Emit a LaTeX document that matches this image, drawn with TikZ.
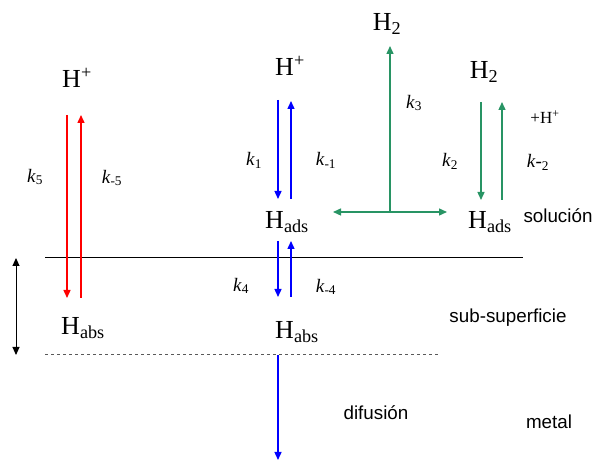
\documentclass[tikz,border=0pt]{standalone}
\usepackage{fontspec}
\setmainfont{Liberation Serif}
\newfontfamily\labelfont{Liberation Sans}
\usetikzlibrary{positioning,calc,arrows.meta}
\tikzset{>={Triangle[length=8pt,width=7pt]}}
\definecolor{rxgreen}{RGB}{40,148,100}

\begin{document}
\begin{tikzpicture}[
    x=1pt, y=-1pt,
    species/.style={inner sep=0pt, font=\fontsize{26}{30}\selectfont},
    rate/.style={inner sep=0pt, font=\fontsize{19}{22}\selectfont},
    region/.style={inner sep=0pt, font=\labelfont\fontsize{18.8}{22}\selectfont},
    flow/.style={->, line width=1.4pt}
]
\useasboundingbox (0,0) rectangle (595,462);

\node[species] (hpl) at (77,78) {H\textsuperscript{+}};
\node[species] (hpc) at (290,66) {H\textsuperscript{+}};
\node[species] (hadsc) at (287,222) {H\textsubscript{ads}};
\node[species] (habsl) at (83,328) {H\textsubscript{abs}};
\node[species] (habsc) at (297,332) {H\textsubscript{abs}};
\node[species] (htop) at (387,24) {H\textsubscript{2}};
\node[species] (hright) at (484,72) {H\textsubscript{2}};
\node[species] (hadsr) at (490,222) {H\textsubscript{ads}};
\node[rate, font=\fontsize{17}{20}\selectfont] (plush) at (545,117) {+H\textsuperscript{+}};

\node[rate] (k5) at (35,177) {\textit{k}\textsubscript{5}};
\node[rate] (km5) at (112,178) {\textit{k}\textsubscript{-5}};
\node[rate] (k1) at (254,160) {\textit{k}\textsubscript{1}};
\node[rate] (km1) at (326,160) {\textit{k}\textsubscript{-1}};
\node[rate] (k4) at (241,286) {\textit{k}\textsubscript{4}};
\node[rate] (km4) at (326,287) {\textit{k}\textsubscript{-4}};
\node[rate] (k3) at (414,103) {\textit{k}\textsubscript{3}};
\node[rate] (k2) at (450,161) {\textit{k}\textsubscript{2}};
\node[rate] (km2) at (538,162) {\textit{k}-\textsubscript{2}};

\node[region] (sol) at (558,216) {solución};
\node[region] (sub) at (508,318) {sub-superficie};
\node[region] (dif) at (376,413) {difusión};
\node[region] (met) at (549,422) {metal};

\coordinate (sl) at (45,257);
\coordinate (sr) at (523,257);
\coordinate (dl) at (45,354);
\coordinate (dr) at (440,354);
\draw[line width=0.8pt] (sl) -- (sr);
\draw[gray!70!black, dashed, line width=0.8pt] (dl) -- (dr);
\coordinate (zt) at (16,258);
\coordinate (zb) at (16,355);
\draw[<->, line width=1pt] (zt) -- (zb);

\coordinate (r1) at (67,115);
\coordinate (r2) at (67,298);
\coordinate (r3) at (81,298);
\coordinate (r4) at (81,115);
\draw[flow, red] (r1) -- (r2);
\draw[flow, red] (r3) -- (r4);

\coordinate (b1) at (278,100);
\coordinate (b2) at (278,199);
\coordinate (b3) at (291,199);
\coordinate (b4) at (291,101);
\draw[flow, blue] (b1) -- (b2);
\draw[flow, blue] (b3) -- (b4);
\coordinate (b5) at (278,241);
\coordinate (b6) at (278,297);
\coordinate (b7) at (291,297);
\coordinate (b8) at (291,241);
\draw[flow, blue] (b5) -- (b6);
\draw[flow, blue] (b7) -- (b8);
\coordinate (b9) at (278,355);
\coordinate (b10) at (278,460);
\draw[flow, blue] (b9) -- (b10);

\coordinate (gc) at (390,212);
\coordinate (gt) at (390,46);
\coordinate (gl) at (333,212);
\coordinate (gr) at (447,212);
\draw[flow, rxgreen] (gc) -- (gt);
\draw[flow, rxgreen] (gc) -- (gl);
\draw[flow, rxgreen] (gc) -- (gr);
\coordinate (g1) at (481,102);
\coordinate (g2) at (481,200);
\coordinate (g3) at (502,200);
\coordinate (g4) at (502,102);
\draw[flow, rxgreen] (g1) -- (g2);
\draw[flow, rxgreen] (g3) -- (g4);
\end{tikzpicture}
\end{document}
